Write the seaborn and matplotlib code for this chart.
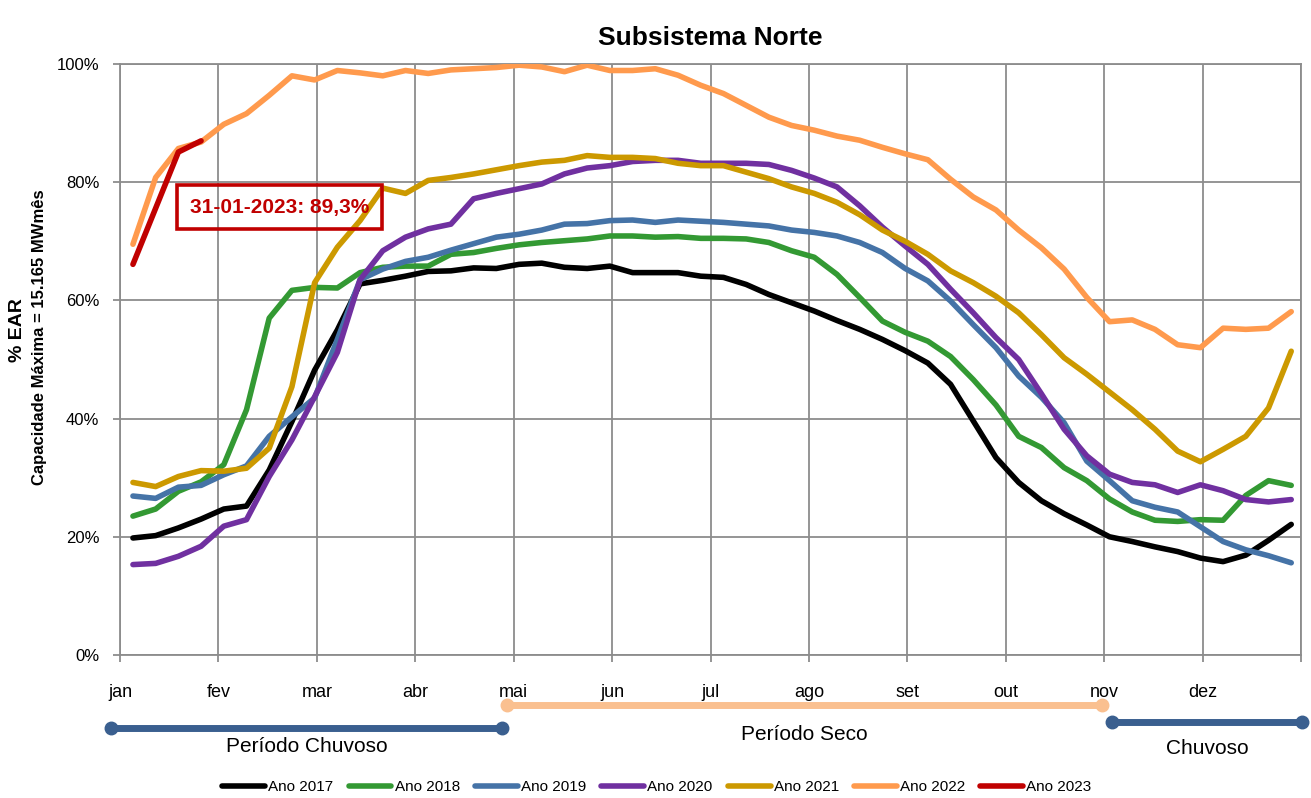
import numpy as np
import pandas as pd
import matplotlib
matplotlib.use("Agg")
import matplotlib.pyplot as plt
from matplotlib import font_manager
import seaborn as sns

# ---------------- data ----------------
months = ["jan", "fev", "mar", "abr", "mai", "jun", "jul", "ago", "set", "out", "nov", "dez"]
yticks = [0, 20, 40, 60, 80, 100]

ano_2017 = [19.8, 20.2, 21.5, 23.0, 24.7, 25.2, 31.3, 39.5, 48.2, 55.0, 62.8, 63.4, 64.1, 64.9, 65.0, 65.5,
            65.4, 66.1, 66.3, 65.6, 65.4, 65.8, 64.7, 64.7, 64.7, 64.1, 63.9, 62.7, 61.0, 59.6, 58.2, 56.6,
            55.1, 53.4, 51.5, 49.4, 45.8, 39.6, 33.4, 29.2, 26.1, 23.9, 22.0, 20.0, 19.2, 18.3, 17.5, 16.4,
            15.8, 16.9, 19.4, 22.1]
ano_2018 = [23.5, 24.7, 27.7, 29.3, 32.2, 41.5, 57.0, 61.7, 62.2, 62.1, 64.7, 65.6, 65.8, 65.8, 67.8, 68.1,
            68.8, 69.4, 69.8, 70.1, 70.4, 70.9, 70.9, 70.7, 70.8, 70.5, 70.5, 70.4, 69.8, 68.4, 67.3, 64.4,
            60.5, 56.5, 54.6, 53.1, 50.5, 46.6, 42.3, 37.0, 35.1, 31.7, 29.5, 26.4, 24.2, 22.8, 22.6, 22.9,
            22.8, 27.0, 29.5, 28.7]
ano_2019 = [26.9, 26.5, 28.4, 28.7, 30.5, 32.0, 37.0, 40.3, 43.5, 53.4, 63.5, 65.3, 66.6, 67.3, 68.5, 69.6,
            70.7, 71.2, 71.9, 72.9, 73.0, 73.5, 73.6, 73.2, 73.6, 73.4, 73.2, 72.9, 72.6, 71.9, 71.5, 70.9,
            69.8, 68.1, 65.4, 63.3, 59.9, 55.9, 52.0, 47.2, 43.6, 39.3, 32.8, 29.5, 26.1, 25.0, 24.2, 21.7,
            19.2, 17.8, 16.8, 15.6]
ano_2020 = [15.3, 15.5, 16.7, 18.4, 21.8, 22.9, 30.2, 36.4, 43.7, 51.2, 63.5, 68.4, 70.7, 72.1, 72.9, 77.2,
            78.1, 78.9, 79.7, 81.4, 82.4, 82.8, 83.5, 83.7, 83.7, 83.2, 83.2, 83.2, 83.0, 82.0, 80.7, 79.2,
            76.0, 72.4, 69.2, 66.1, 61.9, 57.9, 53.7, 50.0, 44.2, 38.2, 33.7, 30.6, 29.2, 28.8, 27.5, 28.8,
            27.8, 26.3, 25.9, 26.3]
ano_2021 = [29.2, 28.5, 30.2, 31.2, 31.1, 31.6, 35.0, 45.4, 63.0, 69.0, 73.5, 79.0, 78.1, 80.3, 80.8, 81.4,
            82.1, 82.8, 83.4, 83.7, 84.5, 84.2, 84.2, 84.0, 83.2, 82.8, 82.8, 81.7, 80.6, 79.2, 78.1, 76.6,
            74.5, 71.9, 70.0, 67.8, 65.0, 63.0, 60.7, 57.9, 54.2, 50.3, 47.5, 44.5, 41.5, 38.2, 34.5, 32.7,
            34.8, 37.0, 41.8, 51.4]
ano_2022 = [69.5, 80.8, 85.7, 86.8, 89.8, 91.6, 94.7, 98.0, 97.3, 98.9, 98.5, 98.0, 98.9, 98.4, 99.0, 99.2,
            99.4, 99.8, 99.5, 98.7, 99.8, 98.9, 98.9, 99.2, 98.1, 96.4, 95.0, 93.0, 91.0, 89.6, 88.8, 87.8,
            87.1, 85.9, 84.8, 83.8, 80.5, 77.5, 75.3, 71.9, 68.9, 65.3, 60.5, 56.4, 56.7, 55.1, 52.5, 52.0,
            55.3, 55.1, 55.3, 58.1]
ano_2023 = [66.1, 75.6, 85.1, 87.0]

series_names = ["Ano 2017", "Ano 2018", "Ano 2019", "Ano 2020", "Ano 2021", "Ano 2022", "Ano 2023"]
series_values = [ano_2017, ano_2018, ano_2019, ano_2020, ano_2021, ano_2022, ano_2023]
series_colors = ["#000000", "#339933", "#4573A7", "#7030A0", "#CC9900", "#FF9A4D", "#C00000"]
series_widths = [2.3, 2.3, 2.3, 2.3, 2.3, 2.3, 5.0]

annotation_text = "31-01-2023: 89,3%"
periods = [("Período Chuvoso", -0.09, 3.88), ("Período Seco", 3.93, 9.98), ("Chuvoso", 10.08, 12.01)]
period_colors = ["#3A5F8F", "#FAC090", "#3A5F8F"]

# ---------------- fonts ----------------
available = {f.name for f in font_manager.fontManager.ttflist}
narrow = "Liberation Sans Narrow" if "Liberation Sans Narrow" in available else "Liberation Sans"

sns.set_theme(style="whitegrid")
plt.rcParams["font.family"] = [narrow, "DejaVu Sans"]
plt.rcParams["text.color"] = "black"

# ---------------- long table ----------------
rows = []
for name, vals in zip(series_names, series_values):
    for i, v in enumerate(vals):
        rows.append({"serie": name, "mes": (i + 0.57) * 12 / 52, "ear": v})
df = pd.DataFrame(rows)

fig = plt.figure(figsize=(13.11, 7.98), dpi=100)
ax = fig.add_axes([120 / 1311, 1 - 655 / 798, (1301 - 120) / 1311, (655 - 64) / 798])

for name, color, lw in zip(series_names, series_colors, series_widths):
    sub = df[df["serie"] == name]
    sns.lineplot(data=sub, x="mes", y="ear", color=color, linewidth=lw, ax=ax,
                 sort=False, estimator=None, label=name, solid_capstyle="round",
                 solid_joinstyle="round", zorder=3 if name != "Ano 2023" else 4)

leg = ax.get_legend()
if leg is not None:
    leg.remove()

ax.set_xlim(0, 12)
ax.set_ylim(0, 100)
ax.set_xticks(range(13))
ax.set_xticklabels(months + [""])
ax.set_yticks(yticks)
ax.set_yticklabels([f"{v}%" for v in yticks])
ax.set_xlabel("")
ax.set_ylabel("")
ax.grid(True, color="#8c8c8c", linewidth=1.3)
for s in ax.spines.values():
    s.set_color("#8c8c8c")
    s.set_linewidth(1.3)
ax.tick_params(axis="both", which="both", length=5, color="#8c8c8c", width=1.3,
               labelcolor="black", bottom=True, left=True)
ax.tick_params(axis="x", pad=16, labelsize=13)
ax.tick_params(axis="y", pad=10, labelsize=12)

ax.set_title("Subsistema Norte", fontsize=19, fontweight="bold", color="black",
             family=["Liberation Sans", "DejaVu Sans"], pad=14)

# y labels
fig.text(18 / 1311, 1 - 330 / 798, "% EAR", rotation=90, fontsize=14, fontweight="bold",
         ha="center", va="center", family=["Liberation Sans", "DejaVu Sans"])
fig.text(40 / 1311, 1 - 337 / 798, "Capacidade Máxima = 15.165 MWmês", rotation=90, fontsize=12,
         fontweight="bold", ha="center", va="center")

# annotation box (transparent fill, lines show through as in the reference)
ax.text(1.62, 75.8, annotation_text, color="#C00000", fontsize=15, fontweight="bold",
        ha="center", va="center", zorder=5,
        bbox=dict(boxstyle="square,pad=0.6", facecolor="none", edgecolor="#C00000", linewidth=2.6))

# period bars below axis
trans = matplotlib.transforms.blended_transform_factory(ax.transData, ax.transAxes)
bar_y = [-0.1235, -0.0846, -0.113]
lab_y = [-0.154, -0.134, -0.159]
for (label, x0, x1), c, by, ly in zip(periods, period_colors, bar_y, lab_y):
    ax.plot([x0, x1], [by, by], color=c, linewidth=5, transform=trans, clip_on=False,
            marker="o", markersize=9, solid_capstyle="butt")
    ax.text((x0 + x1) / 2, ly, label, transform=trans, ha="center", va="center",
            fontsize=15, color="black")

# legend
handles, labels = ax.get_legend_handles_labels()
for h in handles:
    h.set_linewidth(4)
fig.legend(handles, labels, loc="center", bbox_to_anchor=(657 / 1311, 1 - 787 / 798), ncol=7,
           frameon=False, fontsize=11, handlelength=2.8, columnspacing=1.0, handletextpad=0.2)

fig.savefig("out.png", dpi=100, facecolor="white")
